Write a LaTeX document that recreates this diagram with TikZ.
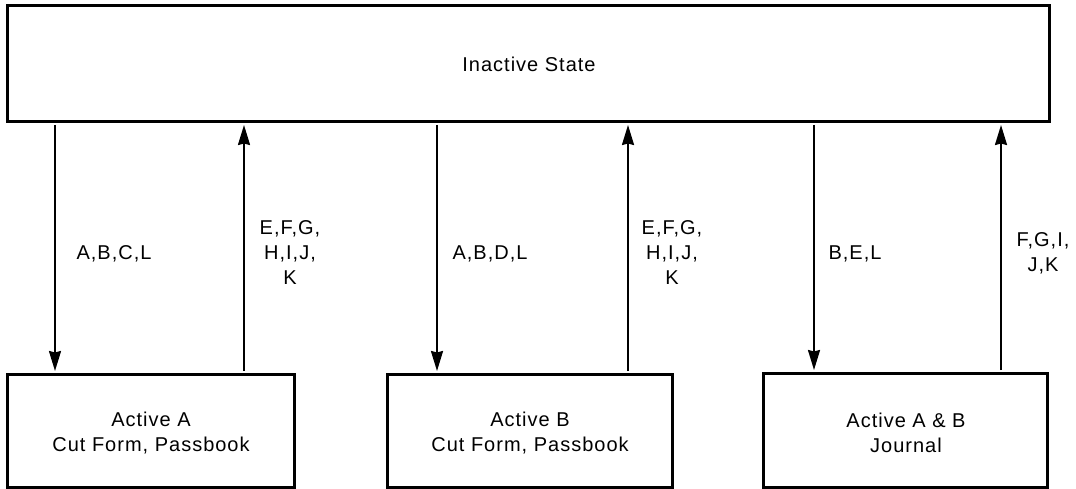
\documentclass[tikz,border=0pt]{standalone}
\usepackage{fontspec}
\setmainfont{Liberation Sans}[LetterSpace=5]
\usetikzlibrary{arrows.meta}
\begin{document}
\begin{tikzpicture}[x=1pt,y=-1pt,
  statebox/.style={draw, line width=3pt, inner sep=0pt, font=\fontsize{20}{25}\selectfont, align=center},
  lbl/.style={inner sep=0pt, font=\fontsize{20}{25}\selectfont, align=center},
  arr/.style={line width=2pt, -{Stealth[length=20pt,width=12pt,inset=1.5pt]}, shorten >=1.5pt, shorten <=1.5pt}]
\useasboundingbox (0,0) rectangle (1076,489);
\node[statebox, minimum width=1042pt, minimum height=116pt] (top) at (528,64) {};
\node[lbl] (toptxt) at (529,64) {Inactive State};
\node[statebox, minimum width=287pt, minimum height=113pt] (A) at (150.5,430.5) {};
\node[lbl] (Atxt) at (151,433) {Active A\\Cut Form, Passbook};
\node[statebox, minimum width=285pt, minimum height=113pt] (B) at (529.5,430.5) {};
\node[lbl] (Btxt) at (530,433) {Active B\\Cut Form, Passbook};
\node[statebox, minimum width=284pt, minimum height=114pt] (C) at (905,430) {};
\node[lbl] (Ctxt) at (906,433) {Active A \& B\\Journal};
% arrow columns
\coordinate (a1) at (55,0);
\coordinate (a2) at (244,0);
\coordinate (b1) at (437,0);
\coordinate (b2) at (628,0);
\coordinate (c1) at (814,0);
\coordinate (c2) at (1001,0);
\draw[arr] (top.south -| a1) -- (A.north -| a1);
\draw[arr] (A.north -| a2) -- (top.south -| a2);
\draw[arr] (top.south -| b1) -- (B.north -| b1);
\draw[arr] (B.north -| b2) -- (top.south -| b2);
\draw[arr] (top.south -| c1) -- (C.north -| c1);
\draw[arr] (C.north -| c2) -- (top.south -| c2);
% labels
\node[lbl] (la1) at (114,254) {A,B,C,L};
\node[lbl] (la2) at (290,253) {E,F,G,\\H,I,J,\\K};
\node[lbl] (lb1) at (490,254) {A,B,D,L};
\node[lbl] (lb2) at (672,253) {E,F,G,\\H,I,J,\\K};
\node[lbl] (lc1) at (855,254) {B,E,L};
\node[lbl] (lc2) at (1043,253) {F,G,I,\\J,K};
\end{tikzpicture}
\end{document}
